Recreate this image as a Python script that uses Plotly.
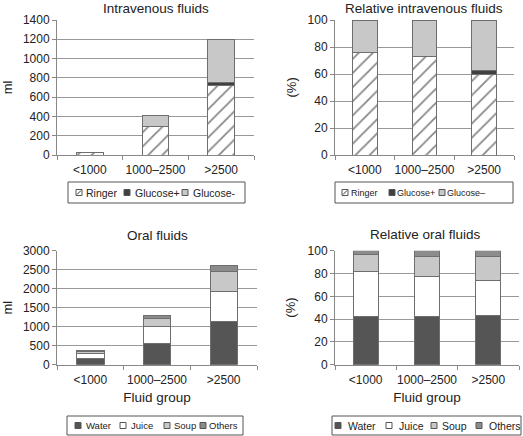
import plotly.graph_objects as go

W, H = 523, 436

groups = ["<1000", "1000–2500", ">2500"]

# Intravenous fluids (ml)
iv_ringer = [22, 300, 722]
iv_glucose_plus = [0, 0, 28]
iv_glucose_minus = [7, 112, 450]

# Relative intravenous fluids (%)
riv_ringer = [76, 73, 60]
riv_glucose_plus = [0, 0, 2.5]
riv_glucose_minus = [24, 27, 37.5]

# Oral fluids (ml)
or_water = [155, 550, 1130]
or_juice = [148, 450, 800]
or_soup = [56, 215, 525]
or_others = [11, 85, 145]

# Relative oral fluids (%)
ror_water = [42, 42, 43.5]
ror_juice = [40, 35, 30.5]
ror_soup = [15, 17.5, 20.5]
ror_others = [3, 5.5, 5.5]

iv_names = ["Ringer", "Glucose+", "Glucose-"]
riv_names = ["Ringer", "Glucose+", "Glucose–"]
or_names = ["Water", "Juice", "Soup", "Others"]

FONT = "Liberation Sans, Arial, sans-serif"
OUTLINE = "#6e6e6e"
C_GPLUS = "#404040"
C_LIGHT = "#c8c8c8"
C_WATER = "#555555"
C_OTHERS = "#8c8c8c"


def px(x):
    return x / W


def py(y):
    return 1 - y / H


fig = go.Figure()

hatch = dict(shape="/", fgcolor="#111111", bgcolor="white", size=10, solidity=0.18)


def add_bars(xa, ya, series, names, styles):
    for vals, name, st in zip(series, names, styles):
        marker = dict(color=st.get("color", "white"),
                      line=dict(color=OUTLINE, width=1))
        if st.get("hatch"):
            marker["pattern"] = hatch
        fig.add_trace(go.Bar(x=groups, y=vals, name=name, marker=marker,
                             xaxis=xa, yaxis=ya, showlegend=False,
                             width=0.41))


iv_styles = [dict(hatch=True), dict(color=C_GPLUS), dict(color=C_LIGHT)]
or_styles = [dict(color=C_WATER), dict(color="white"), dict(color=C_LIGHT), dict(color=C_OTHERS)]

add_bars("x", "y", [iv_ringer, iv_glucose_plus, iv_glucose_minus], iv_names, iv_styles)
add_bars("x2", "y2", [riv_ringer, riv_glucose_plus, riv_glucose_minus], riv_names, iv_styles)
add_bars("x3", "y3", [or_water, or_juice, or_soup, or_others], or_names, or_styles)
add_bars("x4", "y4", [ror_water, ror_juice, ror_soup, ror_others], or_names, or_styles)

tickfont = dict(family=FONT, size=12, color="#222")

top_y = [py(155), py(20)]
bot_y = [py(364.7), py(250.7)]
doms = {
    1: ([px(57), px(254)], top_y),
    2: ([px(335), px(514)], top_y),
    3: ([px(57), px(257)], bot_y),
    4: ([px(335), px(519)], bot_y),
}
yranges = {1: [0, 1400], 2: [0, 100], 3: [0, 3000], 4: [0, 100]}
ydtick = {1: 200, 2: 20, 3: 500, 4: 20}

layout = {}
for i in range(1, 5):
    sx = "" if i == 1 else str(i)
    xd, yd = doms[i]
    xt = dict(text="Fluid group", font=dict(family=FONT, size=13.5, color="#222"), standoff=6) if i >= 3 else None
    yt = dict(text="ml", font=dict(family=FONT, size=13, color="#222"), standoff=12) if i in (1, 3) else None
    layout["xaxis" + sx] = dict(
        domain=xd, anchor="y" + sx, showline=True, linecolor="#888", linewidth=1,
        ticks="outside", tickson="boundaries", ticklen=4, tickcolor="#888",
        tickfont=tickfont, tickangle=0, ticklabelstandoff=4,
        showgrid=False, fixedrange=True, automargin=False, title=xt,
    )
    layout["yaxis" + sx] = dict(
        domain=yd, anchor="x" + sx, range=yranges[i], dtick=ydtick[i],
        showline=True, linecolor="#888", linewidth=1,
        ticks="outside", ticklen=4, tickcolor="#888",
        showgrid=True, gridcolor="#999999", gridwidth=1, zeroline=False,
        tickfont=tickfont, automargin=False, fixedrange=True, title=yt,
    )

fig.update_layout(**layout)

annotations = []
# subplot titles
titles = [("Intravenous fluids", 156, 8), ("Relative intravenous fluids", 424, 8),
          ("Oral fluids", 157, 235), ("Relative oral fluids", 425.5, 234)]
for t, x, y in titles:
    annotations.append(dict(text=t, x=px(x), y=py(y), xref="paper", yref="paper",
                            showarrow=False, xanchor="center", yanchor="middle",
                            font=dict(family=FONT, size=13.5, color="#222")))

# "(%)" axis titles of the relative panels
for yc in (87.5, 307.7):
    annotations.append(dict(text="(%)", x=px(291), y=py(yc), xref="paper", yref="paper",
                            showarrow=False, xanchor="center", yanchor="middle",
                            textangle=-90, font=dict(family=FONT, size=13, color="#222")))

shapes = []


def legend(box, items, fsize):
    x0, x1, y0, y1 = box
    shapes.append(dict(type="rect", xref="paper", yref="paper",
                       x0=px(x0), x1=px(x1), y0=py(y1), y1=py(y0),
                       line=dict(color="#555", width=1), fillcolor="white"))
    yc = (y0 + y1) / 2
    s = 6
    for name, ix, tx, color, hatched in items:
        shapes.append(dict(type="rect", xref="paper", yref="paper",
                           x0=px(ix), x1=px(ix + s), y0=py(yc + s / 2), y1=py(yc - s / 2),
                           line=dict(color="#555", width=1), fillcolor=color))
        if hatched:
            shapes.append(dict(type="line", xref="paper", yref="paper",
                               x0=px(ix + 1), x1=px(ix + s - 1), y0=py(yc + s / 2 - 1),
                               y1=py(yc - s / 2 + 1), line=dict(color="#333", width=1)))
        annotations.append(dict(text=name, x=px(tx), y=py(yc), xref="paper", yref="paper",
                                showarrow=False, xanchor="left", yanchor="middle",
                                font=dict(family=FONT, size=fsize, color="#222")))


iv_colors = ["white", C_GPLUS, C_LIGHT]
or_colors = [C_WATER, "white", C_LIGHT, C_OTHERS]

legend((68, 245, 182, 203), [
    (iv_names[0], 76, 84, iv_colors[0], True),
    (iv_names[1], 124, 133, iv_colors[1], False),
    (iv_names[2], 182, 191, iv_colors[2], False),
], 10.5)
legend((335, 513, 182, 203), [
    (riv_names[0], 342, 349, iv_colors[0], True),
    (riv_names[1], 389, 395, iv_colors[1], False),
    (riv_names[2], 439, 445, iv_colors[2], False),
], 9)
legend((67, 243, 416, 435), [
    (or_names[0], 75, 84, or_colors[0], False),
    (or_names[1], 120, 129, or_colors[1], False),
    (or_names[2], 164, 172, or_colors[2], False),
    (or_names[3], 200, 207, or_colors[3], False),
], 9.5)
legend((332, 521, 416, 435), [
    (or_names[0], 335, 346, or_colors[0], False),
    (or_names[1], 386, 397, or_colors[1], False),
    (or_names[2], 431, 440, or_colors[2], False),
    (or_names[3], 476, 487, or_colors[3], False),
], 10.5)

fig.update_layout(
    barmode="stack",
    width=W, height=H,
    margin=dict(l=0, r=0, t=0, b=0),
    paper_bgcolor="white", plot_bgcolor="white",
    showlegend=False,
    annotations=annotations,
    shapes=shapes,
    font=dict(family=FONT, color="#222"),
)

fig.write_html("out.html", config={"displayModeBar": False},
               post_script="document.body.style.margin='0';document.body.style.padding='0';")
